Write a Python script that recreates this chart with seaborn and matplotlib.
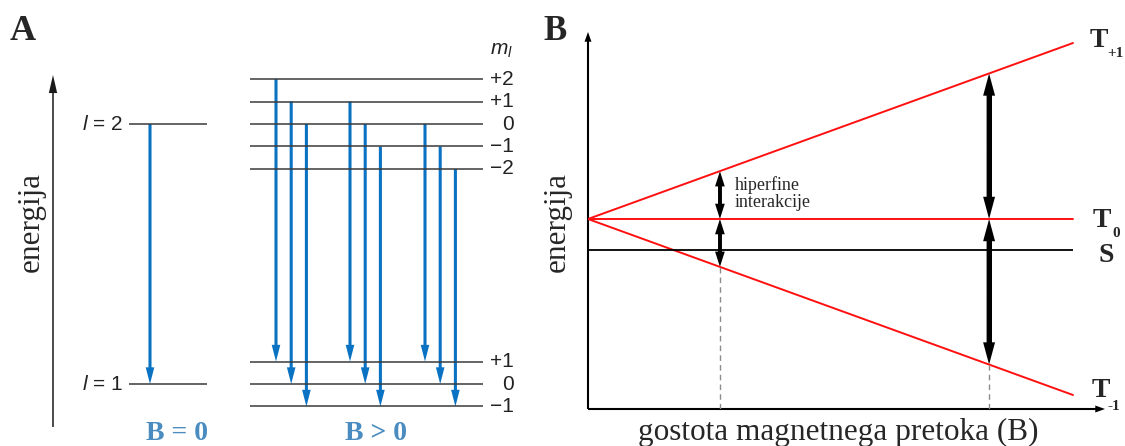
import numpy as np
import pandas as pd
import matplotlib
matplotlib.use("Agg")
import matplotlib.pyplot as plt
from matplotlib.patches import FancyArrowPatch
import seaborn as sns

# ---------------- data : panel A (Zeeman splitting) ----------------
orbital_l = [2, 1]
orbital_energy = [10.0, 0.0]           # energy of l = 2 and l = 1 (arb. units)
zeeman_step = 0.865                    # splitting per unit of m_l at B > 0
ml_upper = [2, 1, 0, -1, -2]
ml_lower = [1, 0, -1]
ml_upper_labels = ["+2", "+1", "0", "\u22121", "\u22122"]
ml_lower_labels = ["+1", "0", "\u22121"]
delta_ml = [-1, 0, 1]                  # transition groups (selection rule)
field_labels = ["B = 0", "B > 0"]

# ---------------- data : panel B (singlet / triplet vs. B) ----------------
flux_density = [0.0, 10.0]
triplet_ms = [1, 0, -1]
triplet_sub = ["+1", "0", "-1"]
singlet_energy = -1.76
hyperfine_B = [2.72, 8.27]

# ---------------- layout / style ----------------
W, H = 1125, 446
BLUE = "#0a72c2"
LEVEL = "#3a3a3a"
LABEL_BLUE = "#4a8cc0"
SERIF = "Liberation Serif"
SANS = "Liberation Sans"

sns.set_theme(style="white")
plt.rcParams["font.family"] = [SERIF, "DejaVu Serif"]
plt.rcParams["mathtext.fontset"] = "custom"
plt.rcParams["mathtext.it"] = "Liberation Sans:italic"
plt.rcParams["mathtext.rm"] = "Liberation Sans"

fig = plt.figure(figsize=(W / 100, H / 100), dpi=100)
fig.patch.set_facecolor("white")


def fx(px):
    return px / W


def fy(py):
    return 1 - py / H


# ================= Panel A =================
axA = fig.add_axes([0, 0, 520 / W, 1])
px_per_E = 26.0
E0_px = 384.0
axA.set_xlim(0, 520)
axA.set_ylim((E0_px - H) / px_per_E, E0_px / px_per_E)
axA.set_axis_off()

blue_style = "simple,head_length=12,head_width=6.2,tail_width=2.2"

# B = 0 levels
axA.hlines(orbital_energy, 129, 207, color=LEVEL, lw=1.1)
for l, E in zip(orbital_l, orbital_energy):
    axA.text(123, E, r"$l$ = %d" % l, fontsize=15, family=SANS,
             ha="right", va="center", color="#222222")
axA.add_patch(FancyArrowPatch((150, orbital_energy[0]), (150, orbital_energy[1]),
                              arrowstyle=blue_style, mutation_scale=1, color=BLUE,
                              lw=0, shrinkA=0, shrinkB=0))

# B > 0 split levels
up_E = [orbital_energy[0] + m * zeeman_step for m in ml_upper]
lo_E = [orbital_energy[1] + m * zeeman_step for m in ml_lower]
axA.hlines(up_E + lo_E, 250, 483, color=LEVEL, lw=1.1)
for E, lab in zip(up_E, ml_upper_labels):
    axA.text(514, E, lab, fontsize=15, family=SANS, ha="right", va="center", color="#222222")
for E, lab in zip(lo_E, ml_lower_labels):
    axA.text(514, E, lab, fontsize=15, family=SANS, ha="right", va="center", color="#222222")

group_x0 = [276, 350, 425]
group_dx = 15.2
for gx, dm in zip(group_x0, delta_ml):
    k = 0
    for m in ml_upper:
        if (m + dm) in ml_lower:
            x = gx + k * group_dx
            e1 = orbital_energy[0] + m * zeeman_step
            e2 = orbital_energy[1] + (m + dm) * zeeman_step
            axA.add_patch(FancyArrowPatch((x, e1), (x, e2), arrowstyle=blue_style,
                                          mutation_scale=1, color=BLUE, lw=0,
                                          shrinkA=0, shrinkB=0))
            k += 1

# energy axis arrow
axA.add_patch(FancyArrowPatch((53, (E0_px - 427) / px_per_E), (53, (E0_px - 75) / px_per_E),
                              arrowstyle="simple,head_length=13,head_width=6,tail_width=1.1",
                              mutation_scale=1, color="#1a1a1a", lw=0, shrinkA=0, shrinkB=0))

fig.text(fx(10), fy(40), "A", family=SERIF, fontweight="bold", fontsize=26,
         ha="left", va="baseline")
fig.text(fx(31), fy(222), "energija", family=SERIF, fontsize=22.5, rotation=90,
         ha="center", va="center")
fig.text(fx(490), fy(55), r"$m_l$", fontsize=15, ha="left", va="baseline", color="#222222")
for xc, lab in zip([176.5, 376], field_labels):
    fig.text(fx(xc), fy(445.5), lab, family=SERIF, fontweight="bold", fontsize=20,
             color=LABEL_BLUE, ha="center", va="bottom")

# ================= Panel B =================
px_per_B = 48.5
px_per_EB = 17.6
axB = fig.add_axes([fx(588), fy(409), (1105 - 588) / W, (409 - 32) / H])
axB.set_xlim(0, (1105 - 588) / px_per_B)
axB.set_ylim(-(409 - 219) / px_per_EB, (219 - 32) / px_per_EB)
for s in axB.spines.values():
    s.set_visible(False)
axB.set_xticks([])
axB.set_yticks([])
axB.patch.set_alpha(0)

rows = []
for ms in triplet_ms:
    for b in flux_density:
        rows.append({"B": b, "E": ms * b, "state": "T%+d" % ms})
df = pd.DataFrame(rows)
sns.lineplot(data=df, x="B", y="E", hue="state", palette=["#ff1010"] * 3,
             estimator=None, sort=False, legend=False, lw=1.4, ax=axB)
axB.set_xlabel("")
axB.set_ylabel("")
axB.hlines(singlet_energy, flux_density[0], flux_density[1], color="black", lw=1.3)

ylo = axB.get_ylim()[0]
arrow_specs = [(11, 7, 2.6), (16, 8.6, 3.6)]   # head_length, head_width, tail (pt)
for b, (hl, hw, tw) in zip(hyperfine_B, arrow_specs):
    axB.vlines(b, ylo, -b, color="#8c8c8c", lw=1.0, linestyles=(0, (4, 3)))
    style = "simple,head_length=%g,head_width=%g,tail_width=%g" % (hl, hw, tw)
    hl_data = hl * 100 / 72 / px_per_EB
    for ms in (1, -1):
        top = ms * b
        sgn = 1 if top > 0 else -1
        for end in (0.0, top):
            mid = top / 2
            axB.add_patch(FancyArrowPatch((b, mid), (b, end), arrowstyle=style,
                                          mutation_scale=1, color="black", lw=0,
                                          shrinkA=0, shrinkB=0))
        axB.vlines(b, sgn * hl_data * 0.9, top - sgn * hl_data * 0.9, color="black",
                   lw=tw, capstyle="butt")

# axes arrows
for end in [(0, 1), (1, 0)]:
    axB.add_patch(FancyArrowPatch((0, 0), end, transform=axB.transAxes,
                                  arrowstyle="simple,head_length=7,head_width=5,tail_width=1.5",
                                  mutation_scale=1, color="black", lw=0, shrinkA=0, shrinkB=0,
                                  clip_on=False))

fig.text(fx(543), fy(40), "B", family=SERIF, fontweight="bold", fontsize=25,
         ha="left", va="baseline")
fig.text(fx(557), fy(222), "energija", family=SERIF, fontsize=22.5, rotation=90,
         ha="center", va="center")
fig.text(fx(838), fy(440), "gostota magnetnega pretoka (B)", family=SERIF,
         fontsize=22.5, ha="center", va="baseline")
fig.text(fx(735), fy(190), "hiperfine", family=SERIF, fontsize=13, ha="left", va="baseline")
fig.text(fx(735), fy(207), "interakcije", family=SERIF, fontsize=13, ha="left", va="baseline")

# state labels
T_pos = [(1090, 47, 1107, 57), (1093, 227, 1112, 237), (1092, 397, 1108, 410)]
for (tx, ty, sx, sy), sub in zip(T_pos, triplet_sub):
    fig.text(fx(tx), fy(ty), "T", family=SERIF, fontweight="bold", fontsize=20,
             ha="left", va="baseline")
    fig.text(fx(sx), fy(sy), sub, family=SERIF, fontweight="bold", fontsize=11,
             ha="left", va="baseline")
fig.text(fx(1099), fy(262), "S", family=SERIF, fontweight="bold", fontsize=20,
         ha="left", va="baseline")

fig.savefig("out.png", dpi=100, facecolor="white")
